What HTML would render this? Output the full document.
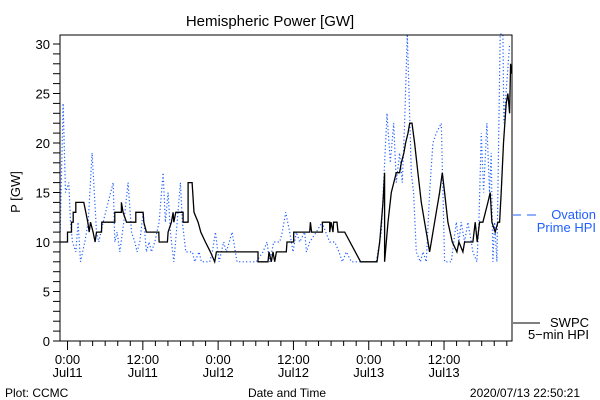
<!DOCTYPE html>
<html><head><meta charset="utf-8"><style>
body{margin:0;background:#fff;}
svg{display:block;font-family:"Liberation Sans","DejaVu Sans",sans-serif;}
</style></head><body>
<svg id="c" width="600" height="400" viewBox="0 0 600 400">
<rect width="600" height="400" fill="#fff"/>
<text x="270" y="26" font-size="15" text-anchor="middle">Hemispheric Power [GW]</text>
<text transform="translate(20,192) rotate(-90)" font-size="13" text-anchor="middle">P [GW]</text>
<text x="287" y="397" font-size="12" text-anchor="middle">Date and Time</text>
<text x="5" y="397" font-size="12">Plot: CCMC</text>
<text x="580" y="397" font-size="12" text-anchor="end">2020/07/13 22:50:21</text>
<g id="axes"></g>
<g id="series"></g>
<rect x="60" y="35" width="452" height="306" fill="none" stroke="#000" stroke-width="1"/>
<g>
<line x1="513" y1="215" x2="521" y2="215" stroke="#1f5fff"/><line x1="527" y1="215" x2="536" y2="215" stroke="#1f5fff"/>
<text x="596" y="219" font-size="13" fill="#1f5fff" text-anchor="end">Ovation</text>
<text x="596" y="232" font-size="13" fill="#1f5fff" text-anchor="end">Prime HPI</text>
</g>
<g>
<line x1="513" y1="323" x2="540" y2="323" stroke="#000"/>
<text x="589" y="327" font-size="13" text-anchor="end">SWPC</text>
<text x="589" y="339" font-size="13" text-anchor="end">5−min HPI</text>
</g>
</svg>
<script>
const yTicks=[0,5,10,15,20,25,30];
const xTickHours=[0,12,24,36,48,60];
const xTickTimes=["0:00","12:00","0:00","12:00","0:00","12:00"];
const xTickDates=["Jul11","Jul11","Jul12","Jul12","Jul13","Jul13"];
const swpcT=[-1.17,0,0,0.63,0.63,0.9,0.9,1.32,1.32,2.6,2.91,3.23,3.45,3.66,4.08,4.4,4.61,5.41,5.46,7.53,7.53,8.59,8.59,8.86,9.39,10.88,10.88,12.04,12.15,12.57,14.54,14.59,15.92,16.02,16.56,16.82,16.93,17.25,18.41,18.41,19.21,19.21,19.85,20.16,20.8,21.23,21.97,22.77,23.46,23.72,30.36,30.36,31.95,32.11,32.48,32.74,33.01,33.28,34.87,34.97,36.04,36.04,38.59,38.7,38.9,40.61,40.61,41.78,41.78,42.0,42.3,42.4,42.94,43.1,44.17,46.71,49.31,49.74,50.27,50.53,50.53,51.07,51.6,52.39,52.92,53.19,53.61,53.88,54.25,54.52,54.89,55.31,55.84,56.37,56.9,57.44,57.7,57.97,58.5,59.29,59.72,60.09,60.62,61.31,62.05,62.37,63.01,63.27,64.6,64.97,65.29,65.66,66.19,66.99,67.36,67.63,68.16,68.58,68.85,69.11,69.48,69.91,70.17,70.44,70.6,70.76];
const swpcV=[10,10,11,11,12,12,13,13,14,14,13,12,11,12,11,10,11,11,12,12,13,13,14,13,12,12,13,13,12,11,11,10,10,11,12,13,12,13,13,12,12,16,16,13,12,11,10,9,8,9,9,8,8,9,8,9,8,9,9,10,10,11,11,12,11,11,12,12,11,12,11,12,12,11,11,8,8,10,14,17,8,12,15,17,17,18,19,20,21,22,22,20,17,14,12,10,9,10,12,15,17,15,12,10,9,10,9,10,10,12,10,12,12,14,15,12,11,12,12,15,20,24,25,23,28,27];
const ovT=[-1.17,-0.7,-0.32,0.21,0.47,0.79,1.32,1.69,2.06,2.76,3.29,3.92,4.61,4.98,5.67,6.47,7.27,7.53,7.9,8.33,8.97,9.66,10.19,10.72,11.09,11.51,12.04,12.57,13,13.37,13.9,14.59,15.23,15.6,16.02,16.4,16.93,17.35,17.99,18.31,18.84,19.9,20.27,20.96,21.33,22.66,23.08,23.56,24.15,24.89,25.31,26.22,27.01,30.09,31.15,31.79,32.21,32.85,33.81,34.23,34.76,35.4,35.93,36.46,37,37.8,38.06,38.59,39.65,40.56,41.14,41.78,42.57,43.26,43.79,44.43,45.23,49.21,50,50.91,51.44,51.97,52.39,52.92,53.35,53.72,54.14,54.78,55.15,55.58,56.21,56.64,57.17,57.7,58.23,58.76,59.56,60.09,61.15,61.95,62.37,62.74,63.27,63.8,64.6,65.24,65.56,65.93,66.3,66.83,67.25,67.52,67.79,68.05,68.42,68.69,68.95,69.38,69.54,70.44];
const ovV=[11,24,15,16,12,10,9,12,8,10,12,19,11,10,12,14,16,10,11,9,12,16,11,10,9,10,13,9,10,9,10,12,17,12,15,11,8,11,16,12,9,9,8,9,8,8,9,11,8,10,9,11,8,8,9,10,8,10,10,11,13,11,9,11,10,11,9,10,11,12,11,10,10,9,8,9,8,8,11,23,18,22,16,19,16,22,31,17,15,9,8,9,8,15,20,21,22,8,8,12,10,12,10,12,9,8,12,21,15,22,15,19,8,12,8,20,31,31,22,30];
const X0=60,X1=512,H0=-1.2,H1=70.83,Y0=341,PPU=9.9;
function xs(h){return X0+(h-H0)/(H1-H0)*(X1-X0);}
function ys(v){return Y0-v*PPU;}
const NS="http://www.w3.org/2000/svg";
const axes=document.getElementById('axes'),ser=document.getElementById('series');
function mk(tag,attrs,parent){const e=document.createElementNS(NS,tag);for(const k in attrs)e.setAttribute(k,attrs[k]);parent.appendChild(e);return e;}
for(let v=0;v<=30;v++){
  const l=mk('line',{x1:53,x2:60,y1:ys(v),y2:ys(v),stroke:'#000'},axes);
  
  
}
yTicks.forEach(v=>{
  const t=mk('text',{x:50,y:ys(v)+5,'font-size':13,'text-anchor':'end'},axes);
  
  
  t.textContent=v;
});
for(let h=0;h<=70;h+=2){
  const major=h%12===0;
  const l=mk('line',{x1:xs(h),x2:xs(h),y1:341,y2:major?350:346,stroke:'#000'},axes);
  
  
}
xTickHours.forEach((h,i)=>{
  const t=mk('text',{x:xs(h),y:364,'font-size':13,'text-anchor':'middle'},axes);
  
  
  t.textContent=xTickTimes[i];
  const d=mk('text',{x:xs(h),y:377,'font-size':13,'text-anchor':'middle'},axes);
  
  
  d.textContent=xTickDates[i];
});
const ov=mk('polyline',{points:ovT.map((t,i)=>xs(t).toFixed(1)+','+ys(ovV[i]).toFixed(1)).join(' '),fill:'none',stroke:'#1f5fff','stroke-width':1.2,'stroke-dasharray':'1.2 2.3'},ser);


const sw=mk('polyline',{points:swpcT.map((t,i)=>xs(t).toFixed(1)+','+ys(swpcV[i]).toFixed(1)).join(' '),fill:'none',stroke:'#000','stroke-width':1.3},ser);


</script>
</body></html>
